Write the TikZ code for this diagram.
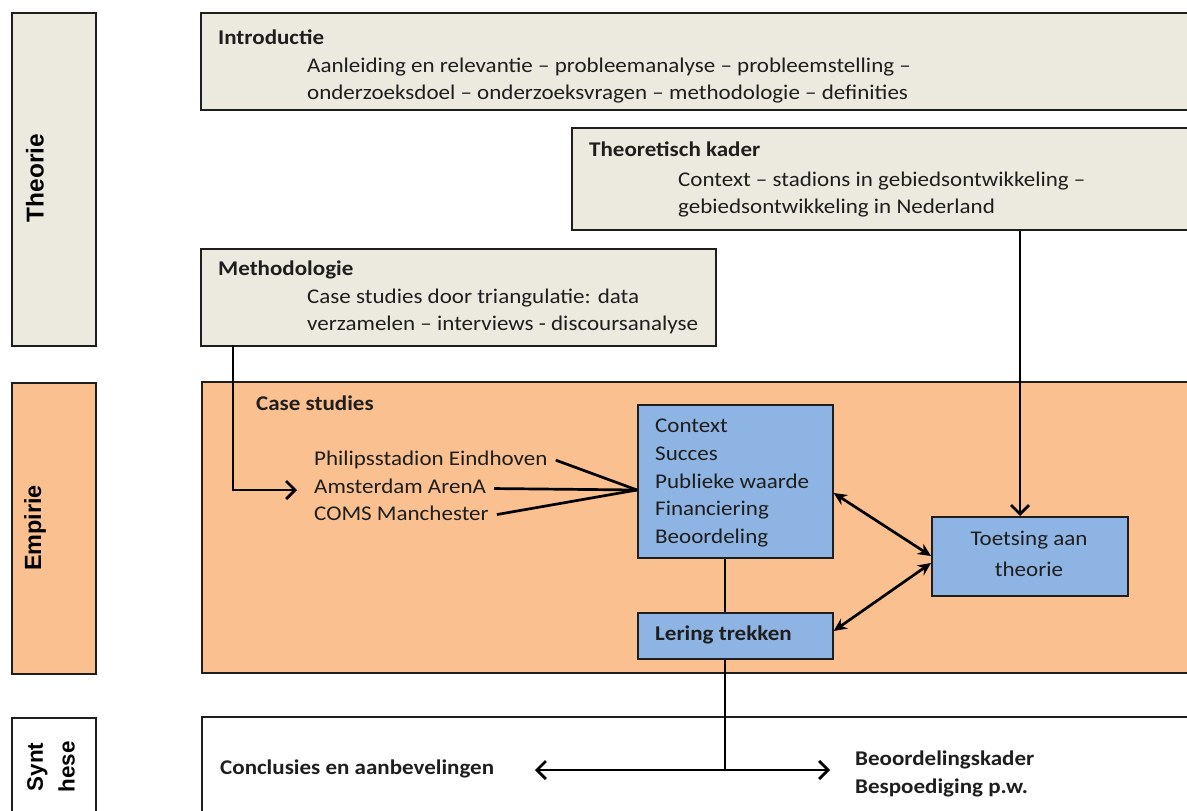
\documentclass[tikz,border=0pt]{standalone}
\usepackage{fontspec}
\setmainfont{Carlito}[FakeStretch=1.1]
\newfontfamily\arialfont{Liberation Sans}
\usetikzlibrary{arrows.meta}
\definecolor{paper}{HTML}{ECE9DF}
\definecolor{peach}{HTML}{FAC090}
\definecolor{sky}{HTML}{8EB4E3}
\definecolor{ink}{HTML}{1E1E1E}
\begin{document}
\begin{tikzpicture}[x=1bp,y=-1bp,
  panel/.style={draw=ink, line width=1.7bp, inner sep=0, anchor=north west},
  txt/.style={anchor=north west, inner sep=0, align=left, text=ink,
              font=\fontsize{21}{27.3}\selectfont},
  bold/.style={txt, font=\fontsize{21}{27.3}\selectfont\bfseries},
  side/.style={rotate=90, inner sep=0, align=center, text=black},
  wire/.style={draw=black, line width=2.7bp},
  open/.style={wire, -{Straight Barb[length=9bp,width=18bp]}},
  both/.style={wire, {Stealth[length=13bp,width=12bp]}-{Stealth[length=13bp,width=12bp]}},
  bothopen/.style={wire, {Straight Barb[length=9bp,width=18bp]}-{Straight Barb[length=9bp,width=18bp]}}
]
\useasboundingbox (0,0) rectangle (1187,811);
\clip (0,0) rectangle (1187,811);

% section labels on the left
\node[panel, fill=paper, minimum width=84bp, minimum height=333bp] (lt) at (11,12) {};
\node[panel, fill=peach, minimum width=84bp, minimum height=291bp] (le) at (11,382) {};
\node[panel, fill=white, minimum width=84bp, minimum height=120bp] (ls) at (11,717) {};
\node[side, font=\arialfont\fontsize{24.5}{26}\selectfont\bfseries] (lbt) at (35,178) {Theorie};
\node[side, font=\arialfont\fontsize{23.5}{26}\selectfont\bfseries] (lbe) at (35,528) {Empirie};
\node[side, font=\arialfont\fontsize{22.5}{32}\selectfont\bfseries] (lbs) at (51,767) {Synt\\hese};

% theory boxes
\node[panel, fill=paper, minimum width=1000bp, minimum height=97bp] (intro) at (200,12) {};
\node[bold] (introt) at (218,30) {Introductie};
\node[txt] (introb) at (307,58) {Aanleiding en relevantie – probleemanalyse – probleemstelling –\\onderzoeksdoel – onderzoeksvragen – methodologie – definities};

\node[panel, fill=paper, minimum width=700bp, minimum height=102bp] (kader) at (571,127) {};
\node[bold] (kadert) at (589,142) {Theoretisch kader};
\node[txt] (kaderb) at (678,172) {Context – stadions in gebiedsontwikkeling –\\gebiedsontwikkeling in Nederland};

\node[panel, fill=paper, minimum width=515bp, minimum height=97bp] (meth) at (200,248) {};
\node[bold] (metht) at (218,261) {Methodologie};
\node[txt] (methb) at (307,289) {Case studies door triangulatie: data\\verzamelen – interviews - discoursanalyse};

% empirical part
\node[panel, fill=peach, minimum width=1000bp, minimum height=291bp] (cases) at (201,381) {};
\node[bold] (casest) at (256,396) {Case studies};
\node[txt] (c1) at (314,451) {Philipsstadion Eindhoven};
\node[txt] (c2) at (314,479) {Amsterdam ArenA};
\node[txt] (c3) at (314,506) {COMS Manchester};

\node[panel, fill=sky, minimum width=195bp, minimum height=153bp] (aspects) at (637,404) {};
\node[txt, font=\fontsize{21}{27.8}\selectfont] (aspectst) at (655,419) {Context\\Succes\\Publieke waarde\\Financiering\\Beoordeling};
\node[panel, fill=sky, minimum width=195bp, minimum height=46bp] (lering) at (637,612) {};
\node[bold] (leringt) at (655,626) {Lering trekken};
\node[panel, fill=sky, minimum width=196bp, minimum height=79bp] (toets) at (931,516) {};
\node[txt, anchor=center, align=center, font=\fontsize{21}{31}\selectfont] (toetst) at (1029,554) {Toetsing aan\\theorie};

% synthesis
\node[panel, fill=white, minimum width=1000bp, minimum height=120bp] (synth) at (201,716) {};
\node[bold] (concl) at (220,760) {Conclusies en aanbevelingen};
\node[bold] (result) at (855,751) {Beoordelingskader\\Bespoediging p.w.};

% helper points for the connectors
\coordinate (hub) at (637,490);
\coordinate (mtop) at (233,345);
\coordinate (mend) at (297,490);
\coordinate (junction) at (725,770);

% connectors
\draw[open] (mtop) |- (mend);
\draw[wire] ([xshift=8bp]c1.east) -- (hub);
\draw[wire] ([xshift=8bp,yshift=-2bp]c2.east) -- (hub);
\draw[wire] ([xshift=8bp,yshift=-1bp]c3.east) -- (hub);
\draw[wire] (aspects.south -| junction) -- (lering.north -| junction);
\draw[wire] (lering.south -| junction) -- (junction);
\draw[open] (kader.south -| 1020,0) -- (toets.north -| 1020,0);
\draw[both] (aspects.east |- 0,493) -- (toets.west |- 0,556);
\draw[both] (lering.east |- 0,631) -- (toets.west |- 0,563);
\draw[bothopen] (junction -| 535,0) -- (junction -| 830,0);
\end{tikzpicture}
\end{document}
